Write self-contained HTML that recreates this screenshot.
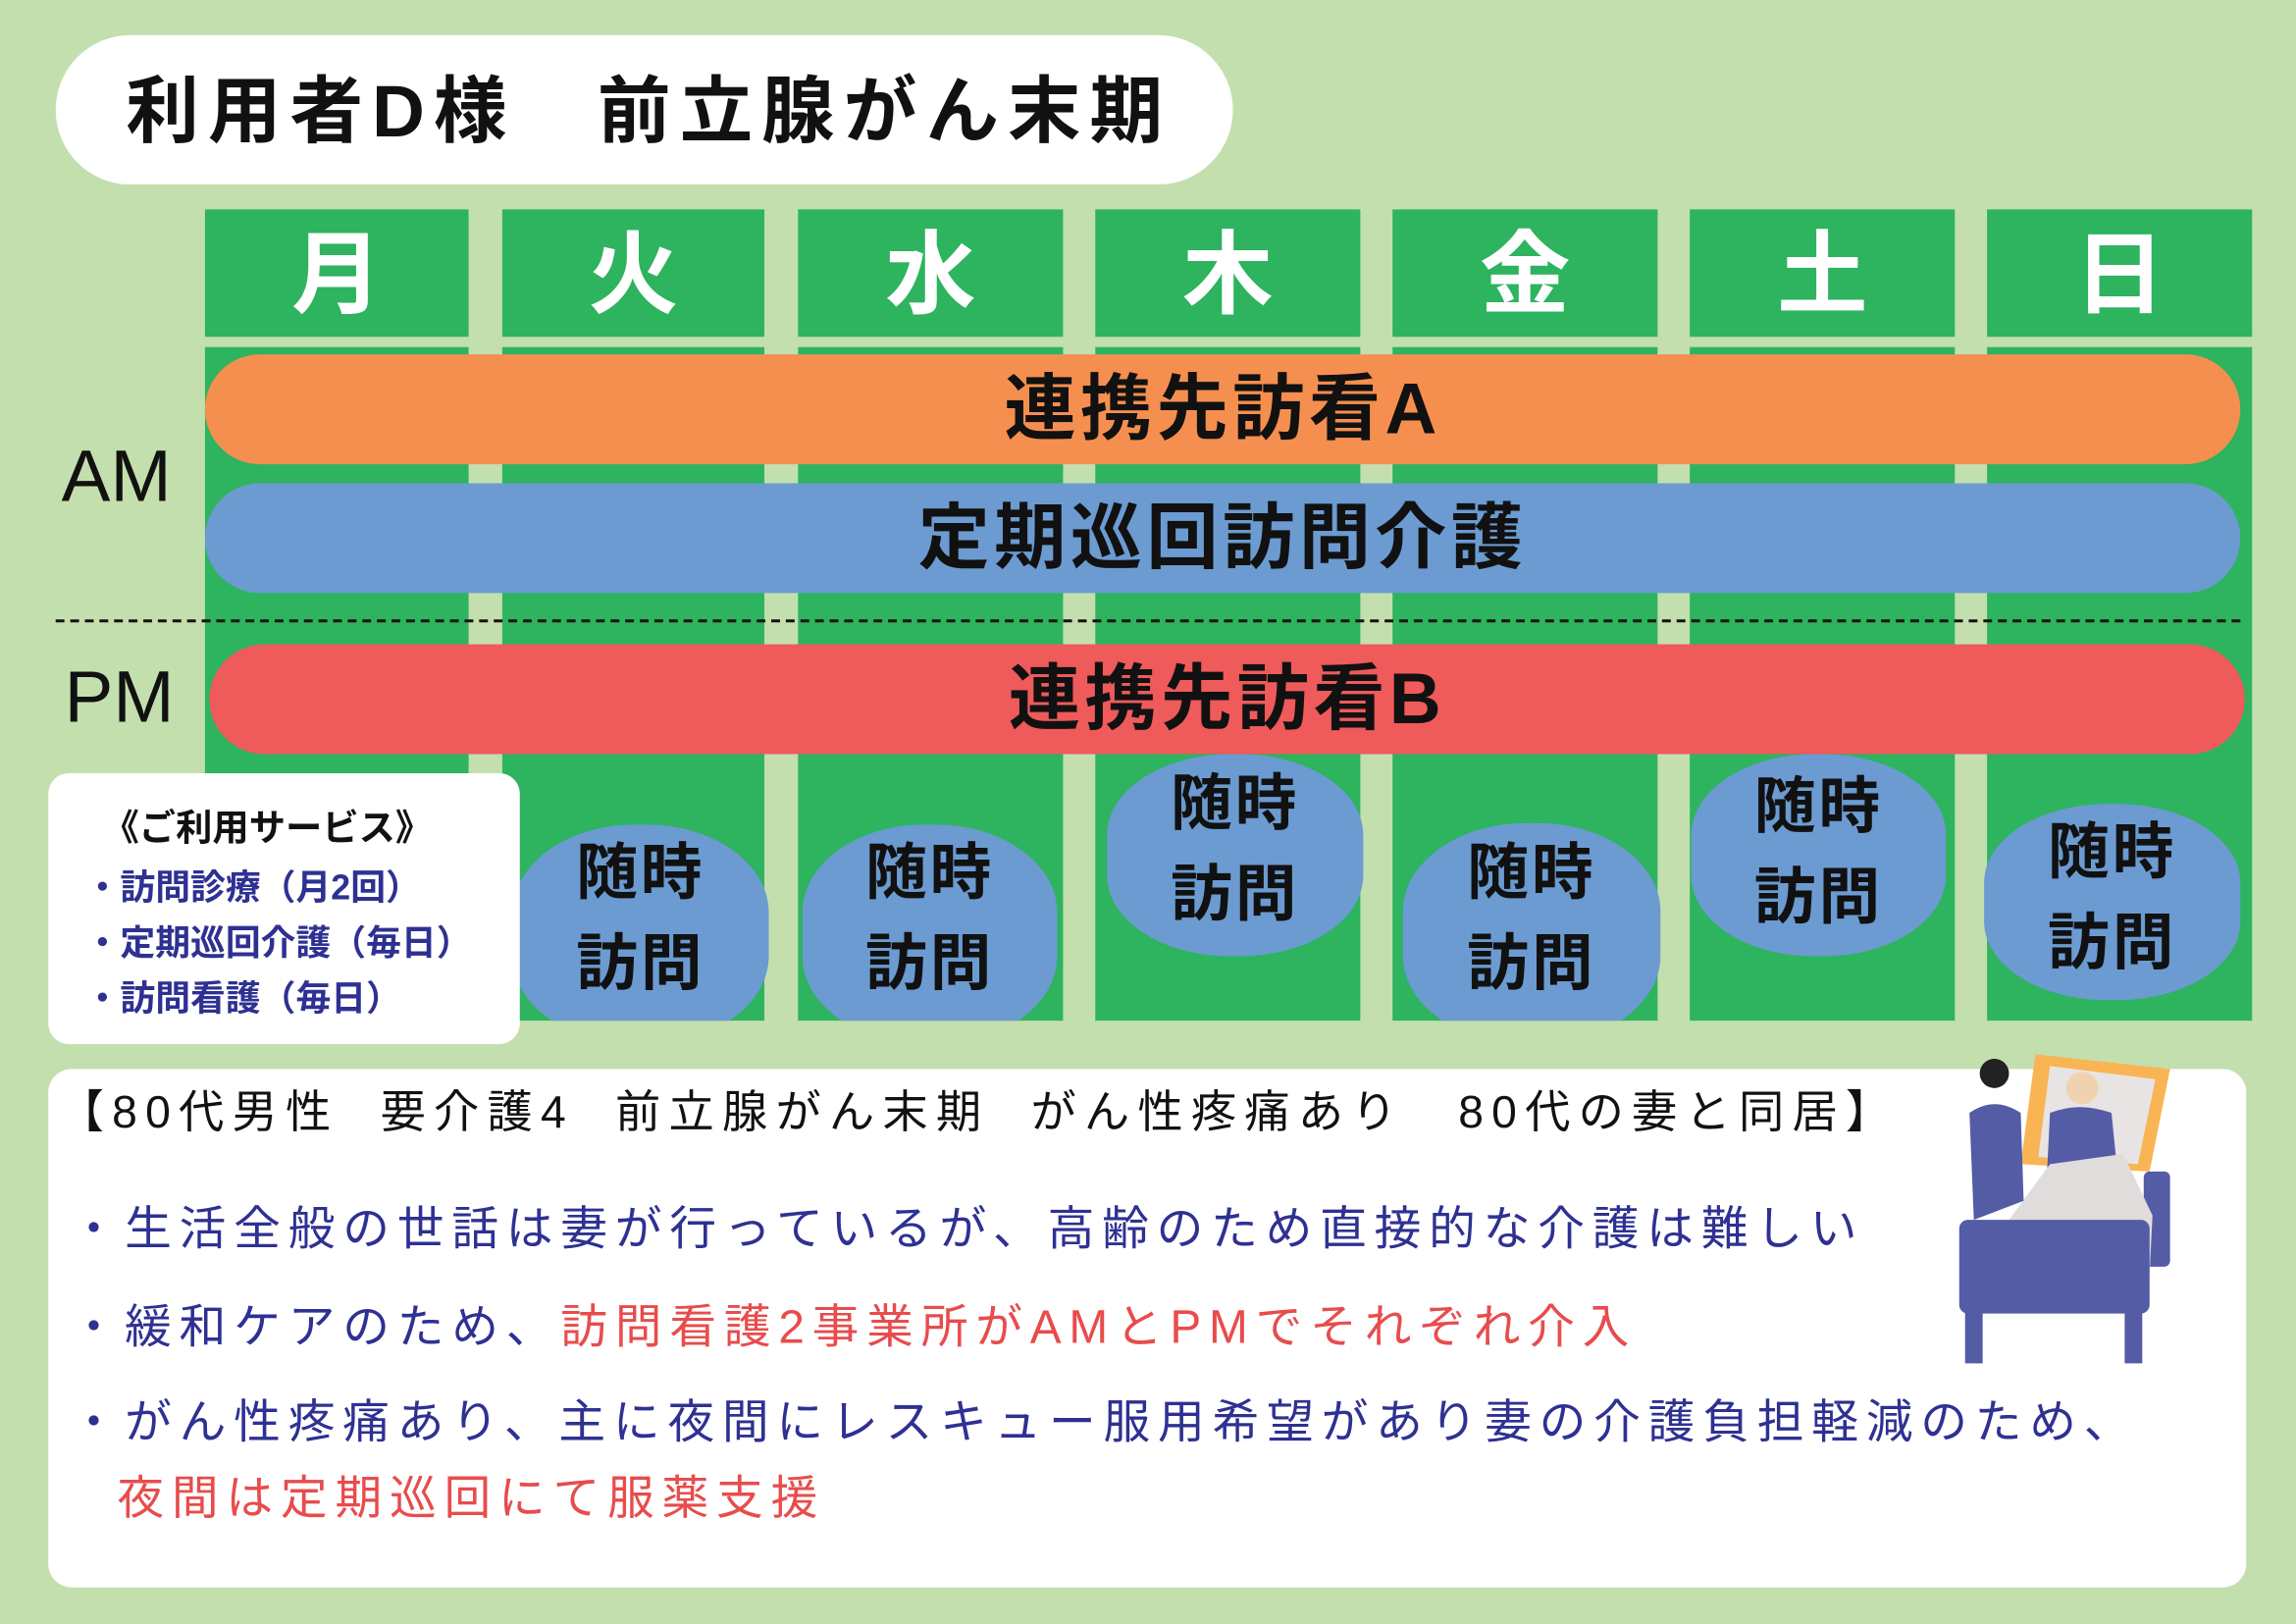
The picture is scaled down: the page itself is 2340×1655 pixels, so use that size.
<!DOCTYPE html>
<html><head><meta charset="utf-8"><style>
html,body{margin:0;padding:0;}
body{width:2340px;height:1655px;overflow:hidden;background:#c3dfae;}
#w{position:absolute;left:0;top:0;width:1568px;height:1109px;transform:scale(1.49235);transform-origin:0 0;font-family:"Liberation Sans","Noto Sans CJK JP",sans-serif;font-weight:bold;}
.a{position:absolute;box-sizing:border-box;}
.c{display:flex;align-items:center;justify-content:center;white-space:nowrap;}
.day{background:#2eb35f;color:#fff;font-size:62px;top:143px;height:87px;padding-bottom:10px;}
.col{background:#2eb35f;top:237px;height:460px;}
.bar{border-radius:38px;font-size:49px;color:#111;letter-spacing:3px;padding-bottom:8px;}
.blob{background:#6b9bd1;border-radius:48% / 40%;font-size:42px;color:#111;flex-direction:column;line-height:62px;letter-spacing:2px;}
.t{position:absolute;white-space:nowrap;}
.b{color:#2e3192;}
.r{color:#e84c4c;}
</style></head><body><div id="w">
<div class="a" style="left:38px;top:24px;width:804px;height:102px;background:#fff;border-radius:51px;"></div>
<div class="t" style="left:86px;top:36px;font-size:50px;letter-spacing:6px;color:#111;">利用者D様　前立腺がん末期</div>

<div class="a day c" style="left:140px;width:180px;">月</div>
<div class="a day c" style="left:343px;width:179px;">火</div>
<div class="a day c" style="left:545px;width:181px;">水</div>
<div class="a day c" style="left:748px;width:181px;">木</div>
<div class="a day c" style="left:951px;width:181px;">金</div>
<div class="a day c" style="left:1154px;width:181px;">土</div>
<div class="a day c" style="left:1357px;width:181px;">日</div>

<div class="a col" style="left:140px;width:180px;"></div>
<div class="a col" style="left:343px;width:179px;"></div>
<div class="a col" style="left:545px;width:181px;"></div>
<div class="a col" style="left:748px;width:181px;"></div>
<div class="a col" style="left:951px;width:181px;"></div>
<div class="a col" style="left:1154px;width:181px;"></div>
<div class="a col" style="left:1357px;width:181px;"></div>

<div class="a bar c" style="left:140px;top:242px;width:1390px;height:75px;background:#f58f4f;">連携先訪看A</div>
<div class="a bar c" style="left:140px;top:330px;width:1390px;height:75px;background:#6b9bd1;">定期巡回訪問介護</div>
<div class="a" style="left:38px;top:423px;width:1492px;height:0;border-top:2px dashed #111;"></div>
<div class="a bar c" style="left:143px;top:440px;width:1390px;height:75px;background:#ef5a5a;">連携先訪看B</div>

<div class="t" style="left:42px;top:296px;font-size:50px;font-weight:normal;color:#111;">AM</div>
<div class="t" style="left:44px;top:447px;font-size:50px;font-weight:normal;color:#111;">PM</div>

<div class="a blob c" style="left:350px;top:563px;width:175px;height:150px;clip-path:inset(0 0 16px 0);padding-bottom:22px;"><span>随時</span><span>訪問</span></div>
<div class="a blob c" style="left:548px;top:563px;width:174px;height:150px;clip-path:inset(0 0 16px 0);padding-bottom:22px;"><span>随時</span><span>訪問</span></div>
<div class="a blob c" style="left:756px;top:515px;width:175px;height:138px;padding-bottom:8px;"><span>随時</span><span>訪問</span></div>
<div class="a blob c" style="left:958px;top:562px;width:176px;height:151px;clip-path:inset(0 0 16px 0);padding-bottom:22px;"><span>随時</span><span>訪問</span></div>
<div class="a blob c" style="left:1155px;top:515px;width:174px;height:138px;padding-bottom:4px;"><span>随時</span><span>訪問</span></div>
<div class="a blob c" style="left:1355px;top:549px;width:175px;height:134px;padding-bottom:6px;"><span>随時</span><span>訪問</span></div>

<div class="a" style="left:33px;top:528px;width:322px;height:185px;background:#fff;border-radius:14px;"></div>
<div class="t" style="left:70px;top:546px;font-size:25px;color:#111;">《ご利用サービス》</div>
<div class="t b" style="left:58px;top:586px;font-size:24px;">・訪問診療（月2回）</div>
<div class="t b" style="left:58px;top:624px;font-size:24px;">・定期巡回介護（毎日）</div>
<div class="t b" style="left:58px;top:662px;font-size:24px;">・訪問看護（毎日）</div>

<div class="a" style="left:33px;top:730px;width:1501px;height:354px;background:#fff;border-radius:16px;"></div>
<div class="t" style="left:40px;top:734px;font-size:31px;font-weight:normal;color:#111;letter-spacing:5.5px;">【80代男性&nbsp; 要介護4&nbsp; 前立腺がん末期&nbsp; がん性疼痛あり　80代の妻と同居】</div>
<div class="t b" style="left:48px;top:814px;font-size:32px;font-weight:normal;letter-spacing:5.2px;">・生活全般の世話は妻が行っているが、高齢のため直接的な介護は難しい</div>
<div class="t b" style="left:48px;top:881px;font-size:32px;font-weight:normal;letter-spacing:5.2px;">・緩和ケアのため、<span class="r">訪問看護2事業所がAMとPMでそれぞれ介入</span></div>
<div class="t b" style="left:48px;top:946px;font-size:32px;font-weight:normal;letter-spacing:5.2px;">・がん性疼痛あり、主に夜間にレスキュー服用希望があり妻の介護負担軽減のため、</div>
<div class="t r" style="left:80px;top:998px;font-size:32px;font-weight:normal;letter-spacing:5.2px;">夜間は定期巡回にて服薬支援</div>

<svg class="a" style="left:1330px;top:712px;" width="160" height="225" viewBox="1330 712 160 225">
<polygon points="1390,720 1482,730 1468,800 1380,795" fill="#f9b453"/>
<polygon points="1400,728 1472,737 1460,795 1392,790" fill="#e8e4e4"/>
<rect x="1464" y="800" width="18" height="65" rx="4" fill="#535ca5"/>
<circle cx="1422" cy="743" r="11" fill="#f1d2b0"/>
<path d="M1400,760 Q1420,752 1442,760 L1446,800 L1398,800 Z" fill="#535ca5"/>
<path d="M1372,833 L1400,795 L1450,788 L1470,830 L1468,870 L1372,870 Z" fill="#e0dcdc"/>
<circle cx="1362" cy="733" r="10" fill="#222"/>
<path d="M1345,760 Q1362,748 1380,760 L1382,820 L1348,833 Z" fill="#535ca5"/>
<rect x="1338" y="833" width="130" height="64" rx="6" fill="#535ca5"/>
<rect x="1342" y="893" width="12" height="38" fill="#535ca5"/>
<rect x="1451" y="893" width="12" height="38" fill="#535ca5"/>
</svg>
</div></body></html>
